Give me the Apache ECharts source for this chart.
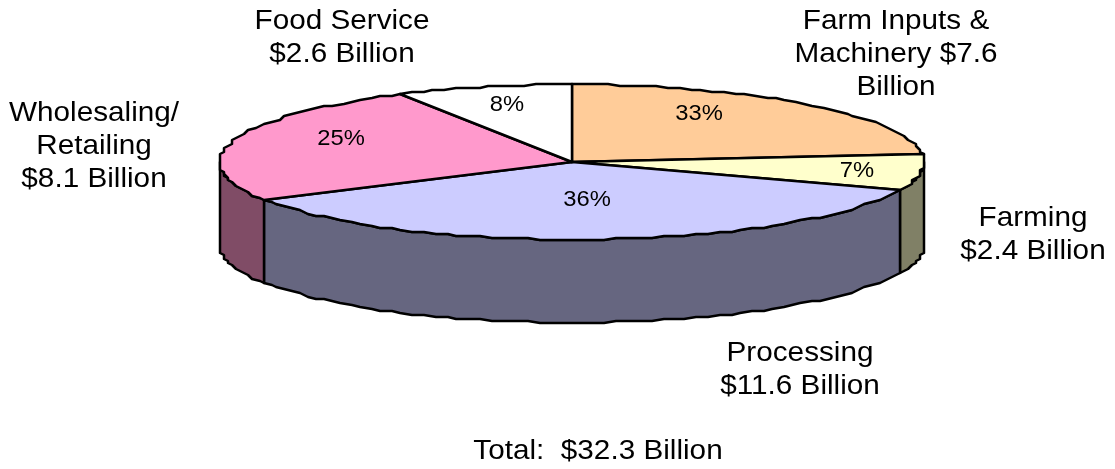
<!DOCTYPE html>
<html>
<head>
<meta charset="utf-8">
<title>Food and fiber sector</title>
<script src="https://cdn.jsdelivr.net/npm/echarts@6/dist/echarts.min.js"></script>
<style>
html, body { margin: 0; padding: 0; background: #fff; }
#chart { width: 1115px; height: 469px; }
</style>
</head>
<body>
<div id="chart"></div>
<script>
// Sector values in billions of dollars, clockwise from twelve o'clock
const categories = ['Farm Inputs &\nMachinery $7.6\nBillion', 'Farming\n$2.4 Billion', 'Processing\n$11.6 Billion', 'Wholesaling/\nRetailing\n$8.1 Billion', 'Food Service\n$2.6 Billion'];
const billions = [7.6, 2.4, 11.6, 8.1, 2.6];
const percentLabels = ['33%', '7%', '36%', '25%', '8%'];
const totalLabel = 'Total:  $32.3 Billion';

// Appearance and placement
const topColors = ['#FFCC99', '#FFFFCC', '#CCCCFF', '#FF99CC', '#FFFFFF'];
const wallColors = ['#806650', '#808066', '#666680', '#804C66', '#808080'];
const percentAnchors = [[699, 114], [857, 171], [587, 200], [341, 139], [507, 105]];
const labelAnchors = [[896, 54], [1033, 235], [800, 370], [94, 146], [342, 38]];
const disc = { cx: 572, cy: 162, rx: 352, ry: 77.5, depth: 83 };
const FONT = '"Liberation Sans", Arial, sans-serif';
const TEXT_STRETCH = 1.08;
// The outline is plotted on a coarse grid, which gives the rim its stepped look
const GRID_X = 4;
const GRID_Y = 2;

const total = billions.reduce((a, b) => a + b, 0);
const rimPoint = (deg, drop) => {
  const r = deg * Math.PI / 180;
  const dx = disc.rx * Math.sin(r);
  const dy = -disc.ry * Math.cos(r);
  return [
    disc.cx + Math.round(dx / GRID_X) * GRID_X,
    disc.cy + Math.round(dy / GRID_Y) * GRID_Y + (drop || 0)
  ];
};
const arc = (from, to, drop) => {
  const pts = [];
  const n = Math.max(2, Math.ceil(Math.abs(to - from) / 2));
  for (let i = 0; i <= n; i++) pts.push(rimPoint(from + (to - from) * i / n, drop));
  return pts;
};

// Cumulative start angle of each slice
const starts = [];
billions.reduce((sum, v, i) => { starts[i] = sum / total * 360; return sum + v; }, 0);

function renderSlice(params, api) {
  const i = params.dataIndex;
  const value = api.value(0);
  const a0 = starts[i];
  const a1 = a0 + value / total * 360;
  const line = { stroke: '#000', lineWidth: 2.5, lineJoin: 'round' };
  const children = [];

  // Only the front half of the disc shows its outer wall
  const w0 = Math.max(a0, 90);
  const w1 = Math.min(a1, 270);
  if (w1 > w0) {
    const upper = arc(w0, w1, 0);
    const lower = arc(w1, w0, disc.depth);
    children.push({
      type: 'polygon',
      shape: { points: upper.concat(lower) },
      style: Object.assign({ fill: wallColors[i] }, line)
    });
  }

  children.push({
    type: 'polygon',
    shape: { points: [[disc.cx, disc.cy]].concat(arc(a0, a1, 0)) },
    style: Object.assign({ fill: topColors[i] }, line)
  });

  children.push({
    type: 'text',
    z2: 10,
    x: percentAnchors[i][0],
    y: percentAnchors[i][1],
    scaleX: TEXT_STRETCH,
    style: {
      text: percentLabels[i],
      align: 'center',
      verticalAlign: 'middle',
      fill: '#000',
      font: '22px ' + FONT
    }
  });
  return { type: 'group', children };
}

const caption = (text, x, y) => ({
  type: 'text',
  x, y,
  scaleX: TEXT_STRETCH,
  style: {
    text,
    align: 'center',
    verticalAlign: 'middle',
    fill: '#000',
    font: '27.5px ' + FONT,
    lineHeight: 33
  }
});

const chart = echarts.init(document.getElementById('chart'), null, { renderer: 'canvas' });
chart.setOption({
  animation: false,
  backgroundColor: '#fff',
  graphic: categories.map((c, i) => caption(c, labelAnchors[i][0], labelAnchors[i][1]))
    .concat([caption(totalLabel, 598, 451)]),
  series: [{
    type: 'custom',
    coordinateSystem: 'none',
    renderItem: renderSlice,
    data: billions.map(v => [v]),
    silent: true
  }]
});
</script>
</body>
</html>
